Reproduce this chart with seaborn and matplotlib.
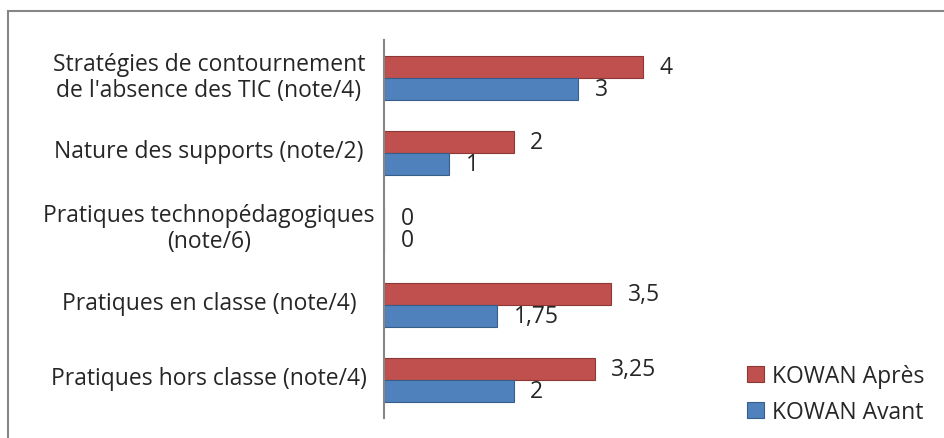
import pandas as pd
import seaborn as sns
from matplotlib import pyplot as plt
from matplotlib.patches import Rectangle
from matplotlib.transforms import ScaledTranslation

# données
categories = [
    "Stratégies de contournement\nde l'absence des TIC (note/4)",
    "Nature des supports (note/2)",
    "Pratiques technopédagogiques\n(note/6)",
    "Pratiques en classe (note/4)",
    "Pratiques hors classe (note/4)",
]
series = ["KOWAN Après", "KOWAN Avant"]
apres = [4, 2, 0, 3.5, 3.25]
avant = [3, 1, 0, 1.75, 2]

df = pd.DataFrame({
    "categorie": categories * 2,
    "serie": [series[0]] * 5 + [series[1]] * 5,
    "note": apres + avant,
})

sns.set_style("white")
plt.rcParams["font.family"] = ["Open Sans", "DejaVu Sans"]
fs = 16.5

fig = plt.figure(figsize=(9.44, 4.39), dpi=100)
ax = fig.add_axes([384 / 944, 1 - 419 / 439, 324 / 944, 378 / 439])

sns.barplot(data=df, y="categorie", x="note", hue="serie", order=categories,
            hue_order=series, palette=["#C0504D", "#4F81BD"], width=0.58,
            orient="h", ax=ax, legend=False, saturation=1)

edges = ["#8C3836", "#385D8A"]
for cont, ec in zip(ax.containers, edges):
    for bar in cont:
        bar.set_edgecolor(ec)
        bar.set_linewidth(0.8)
    labels = [f"{b.get_width():g}".replace(".", ",") for b in cont]
    ax.bar_label(cont, labels=labels, padding=12, fontsize=fs)

ax.set_xlim(0, 5)
ax.set_xlabel("")
ax.set_ylabel("")
ax.set_xticks([])
for s in ["top", "right", "bottom"]:
    ax.spines[s].set_visible(False)
ax.spines["left"].set_color("#868686")
ax.spines["left"].set_linewidth(1.5)
ax.tick_params(axis="y", length=0, pad=126, labelsize=fs)
up = ScaledTranslation(0, 5 / 100, fig.dpi_scale_trans)
for lab in ax.get_yticklabels():
    lab.set_horizontalalignment("center")
    lab.set_multialignment("center")
    lab.set_linespacing(1.1)
    lab.set_transform(lab.get_transform() + up)

handles = [Rectangle((0, 0), 1, 1, facecolor=c, edgecolor=e, linewidth=0.8)
           for c, e in zip(["#C0504D", "#4F81BD"], edges)]
fig.legend(handles, series, loc="center left", bbox_to_anchor=(736 / 944, 1 - 395 / 439),
           frameon=False, fontsize=fs, handlelength=0.7, handleheight=0.7,
           handletextpad=0.35, labelspacing=0.5, borderpad=0)

fig.patches.append(Rectangle((7.5 / 944, -0.1), 2, 1.1 - 12.5 / 439, transform=fig.transFigure,
                             fill=False, edgecolor="#868686", linewidth=1.5))

fig.savefig("out.png", dpi=100)
